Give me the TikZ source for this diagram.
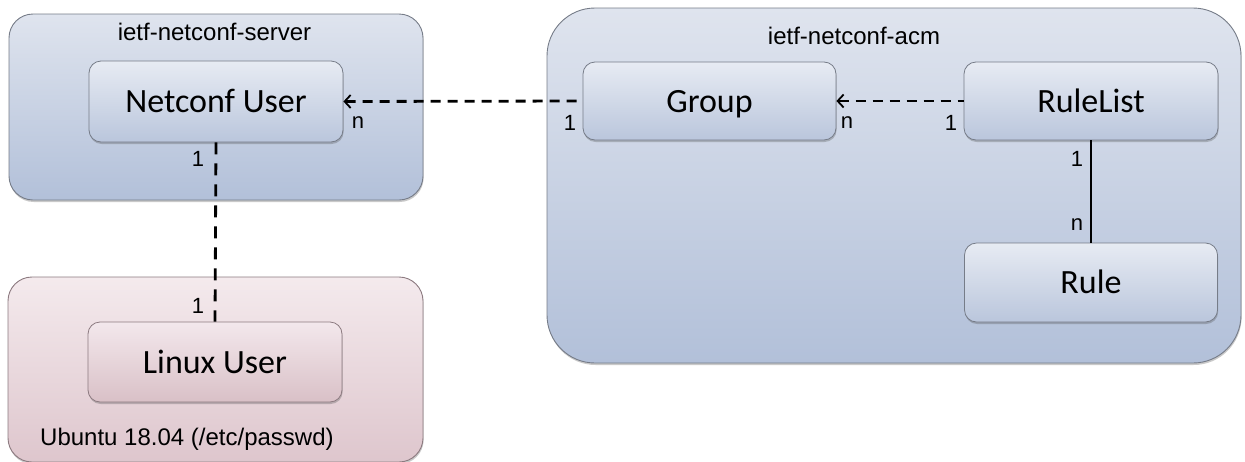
\documentclass[tikz,border=0pt]{standalone}
\usepackage{fontspec}
\setmainfont{Liberation Sans}
\newfontfamily\calfont{Carlito}
\usetikzlibrary{arrows.meta,shadows}

\definecolor{blueTop}{HTML}{DFE4EE}
\definecolor{blueBot}{HTML}{B2C0D9}
\definecolor{blueItemTop}{HTML}{E7EBF3}
\definecolor{blueItemBot}{HTML}{BAC6DC}
\definecolor{pinkTop}{HTML}{F4EAED}
\definecolor{pinkBot}{HTML}{DEC6CD}
\definecolor{pinkItemTop}{HTML}{F3E8EC}
\definecolor{pinkItemBot}{HTML}{D9C0C7}
\definecolor{frameLine}{HTML}{767C88}
\definecolor{pinkLine}{HTML}{8C7A80}

\begin{document}
\begin{tikzpicture}[x=1pt,y=-1pt,
  softshadow/.style={drop shadow={shadow xshift=0.6pt,shadow yshift=-2pt,opacity=0.3,fill=black!70}},
  package/.style={rectangle,draw=frameLine,line width=0.9pt,inner sep=0pt,softshadow},
  bluepkg/.style={package,top color=blueTop,bottom color=blueBot},
  pinkpkg/.style={package,draw=pinkLine,top color=pinkTop,bottom color=pinkBot},
  entity/.style={rectangle,rounded corners=12pt,draw=frameLine,line width=0.8pt,
    inner sep=0pt,minimum width=254pt,minimum height=79pt,softshadow,
    font=\calfont\fontsize{34}{40}\selectfont,text height=22pt,text depth=0pt},
  blueentity/.style={entity,top color=blueItemTop,bottom color=blueItemBot},
  pinkentity/.style={entity,draw=pinkLine,top color=pinkItemTop,bottom color=pinkItemBot},
  pkgtitle/.style={inner sep=0pt,anchor=base,font=\fontsize{24}{28}\selectfont},
  mult/.style={inner sep=0pt,font=\fontsize{22}{26}\selectfont},
  dashlink/.style={line width=2.8pt,dash pattern=on 10pt off 7pt},
  vdashlink/.style={line width=2.8pt,dash pattern=on 12pt off 9pt},
  solidlink/.style={line width=2.2pt},
  openhead/.style={{Straight Barb[length=6pt,width=13pt,line width=1.8pt]}-}
]
\useasboundingbox (0,0) rectangle (1245,461);

% package containers
\node[bluepkg,rounded corners=24pt,minimum width=414pt,minimum height=186pt] (server) at (216,107) {};
\node[pinkpkg,rounded corners=24pt,minimum width=415pt,minimum height=185pt] (ubuntu) at (215.5,369.5) {};
\node[bluepkg,rounded corners=48pt,minimum width=694pt,minimum height=355pt] (acm) at (894,185.5) {};

% package titles
\node[pkgtitle] (serverTitle) at (214.5,40) {ietf-netconf-server};
\node[pkgtitle] (acmTitle) at (854,44) {ietf-netconf-acm};
\node[pkgtitle,anchor=base west] (ubuntuTitle) at (40,445) {Ubuntu 18.04 (/etc/passwd)};

% entities
\node[blueentity,minimum height=81pt] (nuser) at (216,101.5) {Netconf User};
\node[pinkentity,minimum height=80pt] (luser) at (215,362) {Linux User};
\node[blueentity,minimum width=253pt,minimum height=78pt] (group) at (709.5,101) {Group};
\node[blueentity,minimum height=78pt] (rulelist) at (1091,101) {RuleList};
\node[blueentity,minimum width=253pt] (rule) at (1091,282.5) {Rule};

% associations
\draw[dashlink,openhead] (nuser.east) -- (group.west);
\draw[vdashlink] (nuser.south) -- (luser.north);
\draw[dashlink,openhead] (group.east) -- (rulelist.west);
\draw[solidlink] (rulelist.south) -- (rule.north);

% multiplicities
\node[mult] (mNuserGroup) at (358,123) {n};
\node[mult] (mGroupNuser) at (570,123) {1};
\node[mult] (mGroupRL) at (847,123) {n};
\node[mult] (mRLGroup) at (951,123) {1};
\node[mult] (mRLRule) at (1077,159) {1};
\node[mult] (mRuleRL) at (1077,225) {n};
\node[mult] (mNuserLuser) at (198,159) {1};
\node[mult] (mLuserNuser) at (198,306) {1};
\end{tikzpicture}
\end{document}
